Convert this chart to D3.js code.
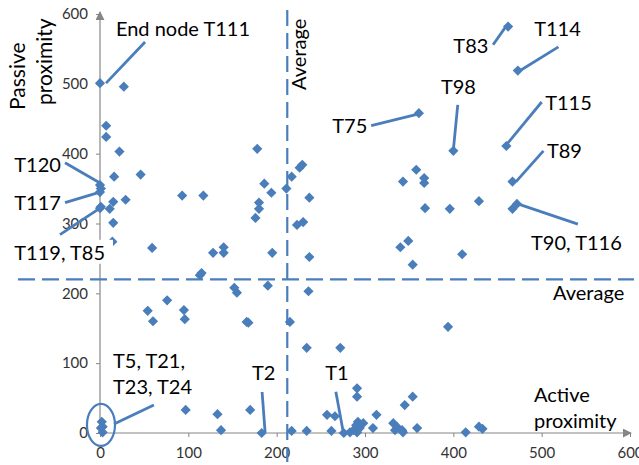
<!DOCTYPE html>
<html><head><meta charset="utf-8">
<script src="https://cdn.jsdelivr.net/npm/d3@7"></script>
<style>
body{margin:0;background:#fff}
svg{display:block}
text{font-family:Lato,'Open Sans',sans-serif}
</style>
</head><body>
<svg id="chart" width="639" height="465"></svg>
<script>
// ---- data ----
const activeProximity = [0,27,7,7,22,0,1,0,16,46,0,1,11,15,29,15,14,59,93,117,128,140,140,113,115,178,186,194,180,180,176,195,190,152,155,211,217,226,229,237,223,230,237,236,54,60,76,95,96,166,168,215,234,272,97,133,137,170,183,217,234,257,266,262,276,291,291,292,298,290,294,287,283,291,313,309,332,336,342,334,345,354,359,343,394,414,429,433,361,400,460,467,472,467,358,343,367,367,368,396,429,349,340,354,410,462,473,2,3,3,1];
const passiveProximity = [501,496,440,424,403,355,350,345,367,370,322,324,321,331,334,301,274,265,340,340,258,266,258,226,229,407,357,344,330,321,308,258,211,208,201,350,367,380,384,337,298,302,252,203,175,160,190,176,163,159,158,159,122,122,33,27,4,33,0,3,3,26,24,3,0,64,52,16,14,11,7,4,1,1,26,7,14,9,4,4,40,52,7,1,152,1,9,6,458,404,411,360,328,321,377,360,365,358,322,321,332,275,266,241,256,582,519,16,9,1,7];
const xTicks = [0,100,200,300,400,500,600];
const yTicks = [0,100,200,300,400,500,600];
const averageActive = 212;
const averagePassive = 220;

// callout labels: text lines, label anchor (data units), leader line from/to (data units)
const calloutText = [["End node T111"],["T120"],["T117"],["T119, T85"],["T5, T21,","T23, T24"],["T2"],["T1"],["T75"],["T98"],["T83"],["T114"],["T115"],["T89"],["T90, T116"]];
const calloutAnchor = [[18,569],[-97,374],[-97,319],[-97,248],[14.7,93],[172,76],[255,76],[263,430],[386,486],[400,544],[491.5,569],[504,463],[506,394],[488,262]];
const leaderFrom = [[6.8,501],[-39.6,387],[-39.6,330],[-45.3,284],[15.9,12.9],[183.5,58.7],[267,59],[307,440],[405,470],[445,556],[519,553],[500,474],[502,404],[541,299]];
const leaderTo = [[51,560],[0,358],[0,345],[0,322],[61,40],[186.9,1.4],[275,4],[361,457],[400,405],[460,583],[473,517],[459,411],[471,360],[473,328]];

// ---- chart ----
const svg = d3.select("#chart");
const blue = "#4A7EBB", grey = "#868686";
const x = d3.scaleLinear().domain([0,600]).range([100,630]);
const y = d3.scaleLinear().domain([0,600]).range([433,14]);

// axes
const yAxis = d3.axisLeft(y).tickValues(yTicks).tickSize(4).tickSizeOuter(0).tickPadding(8);
const xAxis = d3.axisBottom(x).tickValues(xTicks).tickSize(4).tickSizeOuter(0).tickPadding(10);
const gy = svg.append("g").attr("transform",`translate(${x(0)},0)`).call(yAxis);
const gx = svg.append("g").attr("transform",`translate(0,${y(0)})`).call(xAxis);
[gx,gy].forEach(g=>{
  g.select(".domain").remove();
  g.selectAll(".tick line").attr("stroke",grey);
  g.selectAll(".tick text").attr("fill","#333").style("font-size","15px");
});
const defs = svg.append("defs");
defs.append("marker").attr("id","arr").attr("viewBox","0 0 10 10").attr("refX",9).attr("refY",5)
  .attr("markerWidth",9).attr("markerHeight",9).attr("markerUnits","userSpaceOnUse").attr("orient","auto")
  .append("path").attr("d","M0,0L10,5L0,10Z").attr("fill",grey);
svg.append("line").attr("x1",x(0)).attr("x2",x(600)+1).attr("y1",y(0)).attr("y2",y(0))
  .attr("stroke",grey).attr("stroke-width",1.2).attr("marker-end","url(#arr)");
svg.append("line").attr("x1",x(0)).attr("x2",x(0)).attr("y1",y(0)).attr("y2",y(600)-2)
  .attr("stroke",grey).attr("stroke-width",1.2).attr("marker-end","url(#arr)");

// average lines
svg.append("line").attr("x1",x(averageActive)).attr("x2",x(averageActive)).attr("y1",10).attr("y2",462)
  .attr("stroke",blue).attr("stroke-width",2.2).attr("stroke-dasharray","16,7");
svg.append("line").attr("x1",18).attr("x2",634).attr("y1",y(averagePassive)).attr("y2",y(averagePassive))
  .attr("stroke",blue).attr("stroke-width",2.2).attr("stroke-dasharray","17,7");

// points
const diamond = {draw(ctx,size){const r=Math.sqrt(size/2);ctx.moveTo(0,-r);ctx.lineTo(r,0);ctx.lineTo(0,r);ctx.lineTo(-r,0);ctx.closePath();}};
const sym = d3.symbol().type(diamond).size(52);
svg.append("g").selectAll("path").data(activeProximity.map((a,i)=>[a,passiveProximity[i]]))
  .join("path").attr("d",sym).attr("fill",blue)
  .attr("transform",d=>`translate(${x(d[0])},${y(d[1])})`);

// ellipse around origin cluster
svg.append("ellipse").attr("cx",x(1.1)).attr("cy",y(11.5)).attr("rx",14).attr("ry",21)
  .attr("fill","none").attr("stroke",blue).attr("stroke-width",2.2);

// leaders
svg.append("g").selectAll("line").data(leaderFrom.map((f,i)=>[f,leaderTo[i]])).join("line")
  .attr("x1",d=>x(d[0][0])).attr("y1",d=>y(d[0][1]))
  .attr("x2",d=>x(d[1][0])).attr("y2",d=>y(d[1][1]))
  .attr("stroke",blue).attr("stroke-width",2.8);

// callout labels
const lab = svg.append("g");
calloutText.forEach((lines,i)=>{
  const t = lab.append("text").attr("x",x(calloutAnchor[i][0])).attr("y",y(calloutAnchor[i][1]))
    .style("font-size","20px").attr("fill","#000");
  lines.forEach((l,j)=>t.append("tspan").attr("x",x(calloutAnchor[i][0])).attr("dy",j?26:0).text(l));
  if(lines[0]==="T119, T85"){
    const b=t.node().getBBox();
    lab.insert("rect","text").attr("x",b.x-2).attr("y",b.y).attr("width",b.width+10).attr("height",b.height).attr("fill","#fff");
  }
});

// average labels and axis titles
svg.append("text").attr("transform",`translate(${x(averageActive)+19},90) rotate(-90)`)
  .style("font-size","20px").text("Average");
svg.append("text").attr("x",553).attr("y",y(averagePassive)+21).style("font-size","20px").text("Average");
svg.append("text").attr("x",534).attr("y",402).style("font-size","20px").text("Active");
svg.append("text").attr("x",534).attr("y",428).style("font-size","20px").text("proximity");
svg.append("text").attr("transform","translate(25,110) rotate(-90)").style("font-size","21px").text("Passive");
svg.append("text").attr("transform","translate(52,105) rotate(-90)").style("font-size","21px").text("proximity");
</script>
</body></html>
